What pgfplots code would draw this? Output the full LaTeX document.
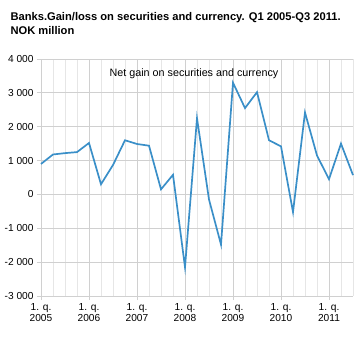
\documentclass[border=0pt]{standalone}
\usepackage{pgfplots}
\pgfplotsset{compat=1.18}
\usepackage{fontspec}
\setmainfont{Liberation Sans}
\definecolor{lineblue}{HTML}{3A8FC8}
\definecolor{gridmaj}{HTML}{D0D0D0}
\definecolor{gridmin}{HTML}{E6E6E6}
\begin{document}
\begin{tikzpicture}
\path (-41bp,-64bp) rectangle (321bp,296bp);
\begin{axis}[
  at={(0,0)}, anchor=south west,
  scale only axis,
  width=312bp, height=237bp,
  xmin=0, xmax=26, ymin=-3000, ymax=4000,
  axis line style={draw=none},
  xtick={0,4,8,12,16,20,24},
  xticklabels={{1. q.\\2005},{1. q.\\2006},{1. q.\\2007},{1. q.\\2008},{1. q.\\2009},{1. q.\\2010},{1. q.\\2011}},
  xticklabel style={align=center, font=\fontsize{10.2}{11}\selectfont},
  minor xtick={1,2,3,5,6,7,9,10,11,13,14,15,17,18,19,21,22,23,25,26},
  ytick={-3000,-2000,-1000,0,1000,2000,3000,4000},
  yticklabels={-3 000,-2 000,-1 000,0,1 000,2 000,3 000,4 000},
  yticklabel style={font=\fontsize{10.2}{11}\selectfont},
  /pgf/number format/assume math mode=true,
  xmajorgrids, xminorgrids, ymajorgrids,
  major x grid style={gridmaj, line width=0.8pt},
  minor x grid style={gridmin, line width=0.8pt},
  major y grid style={gridmaj, line width=0.8pt},
  major tick length=4bp, minor tick length=0pt,
  tick style={gridmaj, line width=0.8pt},
  xtick pos=bottom, ytick pos=left,
  tick align=outside,
  clip=false,
]
\addplot[lineblue, line width=1.7pt] coordinates {
(0,900) (1,1180) (2,1220) (3,1250) (4,1520) (5,300) (6,870) (7,1600)
(8,1490) (9,1440) (10,150) (11,580) (12,-2150) (13,2250) (14,-150) (15,-1480)
(16,3300) (17,2550) (18,3020) (19,1600) (20,1420) (21,-520) (22,2420) (23,1150)
(24,450) (25,1500) (26,570)
};
\node[anchor=base, font=\fontsize{10.8}{12}\selectfont] at (axis cs:12.75,3480) {Net gain on securities and currency};
\end{axis}
\node[anchor=base west, font=\bfseries\fontsize{11.2}{13.5}\selectfont, align=left] at (-34bp,275bp) {Banks.Gain/loss on securities and currency. Q1 2005-Q3 2011.};
\node[anchor=base west, font=\bfseries\fontsize{11.2}{13.5}\selectfont, align=left] at (-34bp,261.5bp) {NOK million};
\end{tikzpicture}
\end{document}
